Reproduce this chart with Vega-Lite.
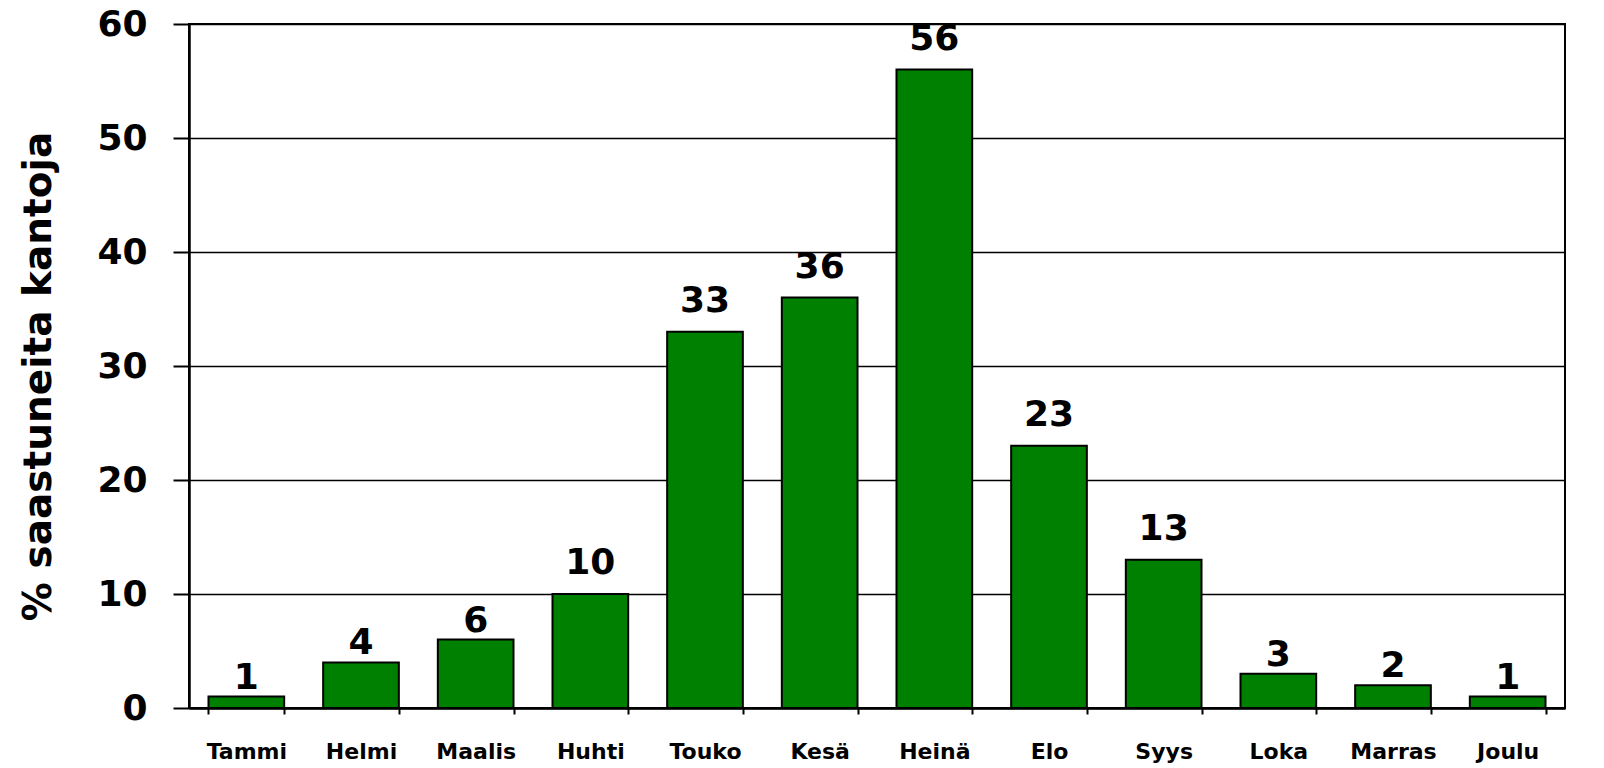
{
  "$schema": "https://vega.github.io/schema/vega-lite/v6.json",
  "autosize": {"type": "none"},
  "padding": {"left": 189, "top": 24, "right": 38, "bottom": 60},
  "width": 1376,
  "height": 684,
  "background": "white",
  "config": {
    "view": {"stroke": "black", "strokeWidth": 2},
    "font": "DejaVu Sans"
  },
  "data": {
    "values": [
      {"kk": "Tammi", "v": 1},
      {"kk": "Helmi", "v": 4},
      {"kk": "Maalis", "v": 6},
      {"kk": "Huhti", "v": 10},
      {"kk": "Touko", "v": 33},
      {"kk": "Kesä", "v": 36},
      {"kk": "Heinä", "v": 56},
      {"kk": "Elo", "v": 23},
      {"kk": "Syys", "v": 13},
      {"kk": "Loka", "v": 3},
      {"kk": "Marras", "v": 2},
      {"kk": "Joulu", "v": 1}
    ]
  },
  "encoding": {
    "x": {
      "field": "kk", "type": "nominal", "sort": null,
      "scale": {"paddingInner": 0.34, "paddingOuter": 0.17},
      "axis": {
        "title": null, "labelAngle": 0, "labelFont": "DejaVu Sans",
        "labelFontSize": 22, "labelFontWeight": "bold", "labelColor": "black",
        "labelPadding": 27, "tickBand": "extent", "tickSize": 6, "tickColor": "black",
        "tickWidth": 2, "domainColor": "black", "domainWidth": 2.5
      }
    },
    "y": {
      "field": "v", "type": "quantitative",
      "scale": {"domain": [0, 60]},
      "axis": {
        "title": "% saastuneita kantoja", "values": [0, 10, 20, 30, 40, 50, 60],
        "titleFont": "DejaVu Sans", "titleFontSize": 39, "titleFontWeight": "bold",
        "titleColor": "black", "titleAngle": -90, "titleX": -151, "titleY": 352,
        "titleAlign": "center", "titleBaseline": "middle",
        "labelFont": "DejaVu Sans", "labelFontSize": 36, "labelFontWeight": "bold",
        "labelColor": "black", "labelPadding": 26, "tickSize": 16, "tickColor": "black",
        "tickWidth": 2, "domainColor": "black", "domainWidth": 2.5,
        "grid": true, "gridColor": "black", "gridWidth": 1.5
      }
    }
  },
  "layer": [
    {
      "mark": {"type": "bar", "color": "#008000", "stroke": "black", "strokeWidth": 2}
    },
    {
      "transform": [{"filter": "datum.v < 10"}],
      "mark": {"type": "text", "baseline": "alphabetic", "dy": -8, "font": "DejaVu Sans", "fontSize": 36, "fontWeight": "bold", "color": "black"},
      "encoding": {"text": {"field": "v", "type": "quantitative"}}
    },
    {
      "transform": [{"filter": "datum.v >= 10"}],
      "mark": {"type": "text", "baseline": "alphabetic", "dy": -20, "font": "DejaVu Sans", "fontSize": 36, "fontWeight": "bold", "color": "black"},
      "encoding": {"text": {"field": "v", "type": "quantitative"}}
    }
  ]
}
